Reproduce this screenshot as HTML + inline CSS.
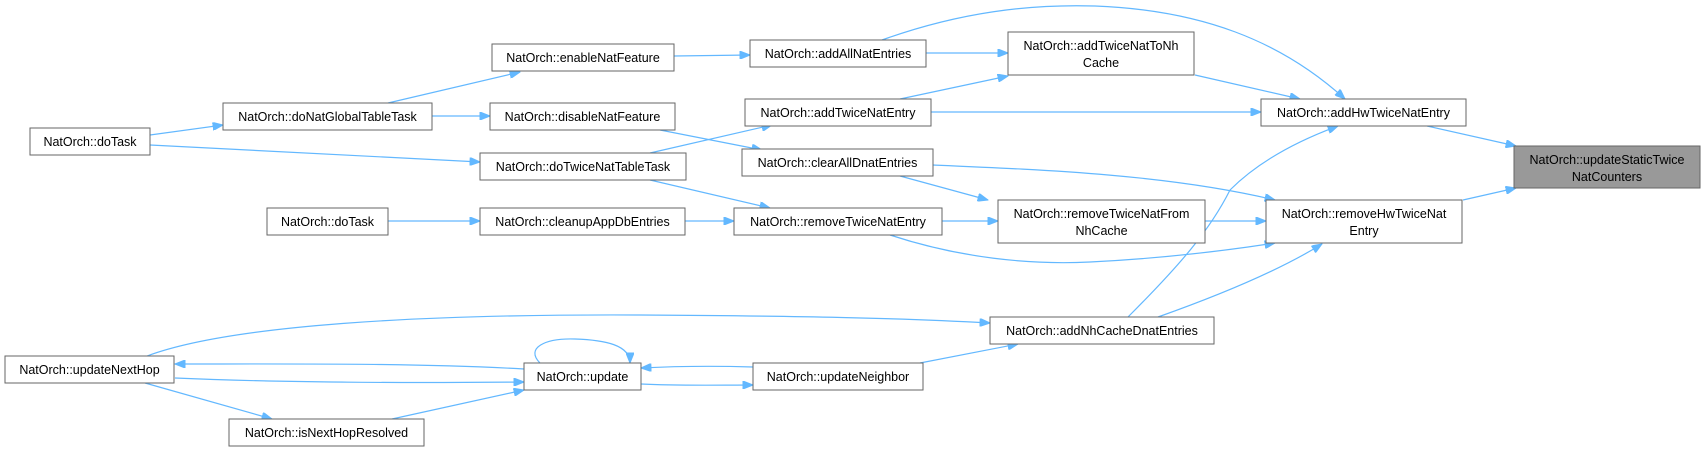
<!DOCTYPE html>
<html><head><meta charset="utf-8"><style>
html,body{margin:0;padding:0;background:#fff;}
svg{display:block;}
text{font-family:"Liberation Sans",Arial,sans-serif;font-size:12.5px;fill:#000;}
.b{fill:#fff;stroke:#666;stroke-width:1;}
.e{fill:none;stroke:#63b8ff;stroke-width:1.2;}
</style></head><body>
<svg width="1705" height="451" viewBox="0 0 1705 451" xmlns="http://www.w3.org/2000/svg">
<defs>
<marker id="a" viewBox="0 0 10 8" refX="10" refY="4" markerWidth="11" markerHeight="8" markerUnits="userSpaceOnUse" orient="auto">
<path d="M0,0 L10,4 L0,8 Z" fill="#63b8ff" stroke="#63b8ff"/>
</marker>
</defs>
<g class="edges">
<path class="e" marker-end="url(#a)" d="M150,135 L223,125"/>
<path class="e" marker-end="url(#a)" d="M150,145 L480,162"/>
<path class="e" marker-end="url(#a)" d="M388,103 L520,72"/>
<path class="e" marker-end="url(#a)" d="M432,116 L490,116"/>
<path class="e" marker-end="url(#a)" d="M674,56 L750,55"/>
<path class="e" marker-end="url(#a)" d="M660,130 L762,150"/>
<path class="e" marker-end="url(#a)" d="M650,153 L772,125"/>
<path class="e" marker-end="url(#a)" d="M650,180 L770,208"/>
<path class="e" marker-end="url(#a)" d="M388,221 L480,221"/>
<path class="e" marker-end="url(#a)" d="M685,221 L734,221"/>
<path class="e" marker-end="url(#a)" d="M926,53 L1008,53"/>
<path class="e" marker-end="url(#a)" d="M882,40 C960,12 1030,4 1095,6 C1200,10 1280,40 1345,99"/>
<path class="e" marker-end="url(#a)" d="M900,99 L1008,76"/>
<path class="e" marker-end="url(#a)" d="M931,112 L1261,112"/>
<path class="e" marker-end="url(#a)" d="M1195,75 L1300,99"/>
<path class="e" marker-end="url(#a)" d="M900,176 L988,200"/>
<path class="e" marker-end="url(#a)" d="M933,165 C1050,170 1170,175 1275,200"/>
<path class="e" marker-end="url(#a)" d="M942,221 L998,221"/>
<path class="e" marker-end="url(#a)" d="M890,235 C960,258 1030,265 1090,262 C1170,258 1230,250 1275,243"/>
<path class="e" marker-end="url(#a)" d="M1205,221 L1266,221"/>
<path class="e" marker-end="url(#a)" d="M1427,126 L1516,146"/>
<path class="e" marker-end="url(#a)" d="M1463,200 L1516,188"/>
<path class="e" marker-end="url(#a)" d="M1128,317 C1180,265 1210,230 1230,190 C1260,160 1300,140 1338,126"/>
<path class="e" marker-end="url(#a)" d="M1158,317 C1220,295 1280,270 1322,244"/>
<path class="e" marker-end="url(#a)" d="M147,356 C230,325 420,314 640,315 C800,316 900,318 990,323"/>
<path class="e" marker-end="url(#a)" d="M524,369 C420,363 300,364 175,364"/>
<path class="e" marker-end="url(#a)" d="M175,378 C290,383 420,383 524,382"/>
<path class="e" marker-end="url(#a)" d="M145,383 L272,419"/>
<path class="e" marker-end="url(#a)" d="M392,419 L524,390"/>
<path class="e" marker-end="url(#a)" d="M540,363 C525,348 545,338 575,339 C605,340 630,345 630,363"/>
<path class="e" marker-end="url(#a)" d="M753,367 C720,366 680,366 641,368"/>
<path class="e" marker-end="url(#a)" d="M641,384 C680,386 720,385 753,385"/>
<path class="e" marker-end="url(#a)" d="M920,363 L1018,344"/>
</g>
<g>
<rect class="b" x="30" y="128" width="120" height="27"/><text x="90" y="146" text-anchor="middle">NatOrch::doTask</text>
<rect class="b" x="223" y="103" width="209" height="27"/><text x="327.5" y="121" text-anchor="middle">NatOrch::doNatGlobalTableTask</text>
<rect class="b" x="492" y="44" width="182" height="27"/><text x="583" y="62" text-anchor="middle">NatOrch::enableNatFeature</text>
<rect class="b" x="490" y="103" width="185" height="27"/><text x="582.5" y="121" text-anchor="middle">NatOrch::disableNatFeature</text>
<rect class="b" x="480" y="153" width="206" height="27"/><text x="583" y="171" text-anchor="middle">NatOrch::doTwiceNatTableTask</text>
<rect class="b" x="267" y="208" width="121" height="27"/><text x="327.5" y="226" text-anchor="middle">NatOrch::doTask</text>
<rect class="b" x="480" y="208" width="205" height="27"/><text x="582.5" y="226" text-anchor="middle">NatOrch::cleanupAppDbEntries</text>
<rect class="b" x="750" y="40" width="176" height="27"/><text x="838" y="58" text-anchor="middle">NatOrch::addAllNatEntries</text>
<rect class="b" x="745" y="99" width="186" height="27"/><text x="838" y="117" text-anchor="middle">NatOrch::addTwiceNatEntry</text>
<rect class="b" x="742" y="149" width="191" height="27"/><text x="837.5" y="167" text-anchor="middle">NatOrch::clearAllDnatEntries</text>
<rect class="b" x="734" y="208" width="208" height="27"/><text x="838" y="226" text-anchor="middle">NatOrch::removeTwiceNatEntry</text>
<rect class="b" x="1008" y="32" width="186" height="43"/><text x="1101" y="50" text-anchor="middle">NatOrch::addTwiceNatToNh</text><text x="1101" y="67" text-anchor="middle">Cache</text>
<rect class="b" x="1261" y="99" width="205" height="27"/><text x="1363.5" y="117" text-anchor="middle">NatOrch::addHwTwiceNatEntry</text>
<rect class="b" x="998" y="200" width="207" height="43"/><text x="1101.5" y="218" text-anchor="middle">NatOrch::removeTwiceNatFrom</text><text x="1101.5" y="235" text-anchor="middle">NhCache</text>
<rect class="b" x="1266" y="200" width="196" height="43"/><text x="1364" y="218" text-anchor="middle">NatOrch::removeHwTwiceNat</text><text x="1364" y="235" text-anchor="middle">Entry</text>
<rect class="b" x="990" y="317" width="224" height="27"/><text x="1102" y="335" text-anchor="middle">NatOrch::addNhCacheDnatEntries</text>
<rect x="1514" y="146" width="186" height="42" fill="#999" stroke="#666"/><text x="1607" y="164" text-anchor="middle">NatOrch::updateStaticTwice</text><text x="1607" y="181" text-anchor="middle">NatCounters</text>
<rect class="b" x="5" y="356" width="169" height="27"/><text x="89.5" y="374" text-anchor="middle">NatOrch::updateNextHop</text>
<rect class="b" x="524" y="363" width="117" height="27"/><text x="582.5" y="381" text-anchor="middle">NatOrch::update</text>
<rect class="b" x="229" y="419" width="195" height="27"/><text x="326.5" y="437" text-anchor="middle">NatOrch::isNextHopResolved</text>
<rect class="b" x="753" y="363" width="170" height="27"/><text x="838" y="381" text-anchor="middle">NatOrch::updateNeighbor</text>
</g>
</svg>
</body></html>
